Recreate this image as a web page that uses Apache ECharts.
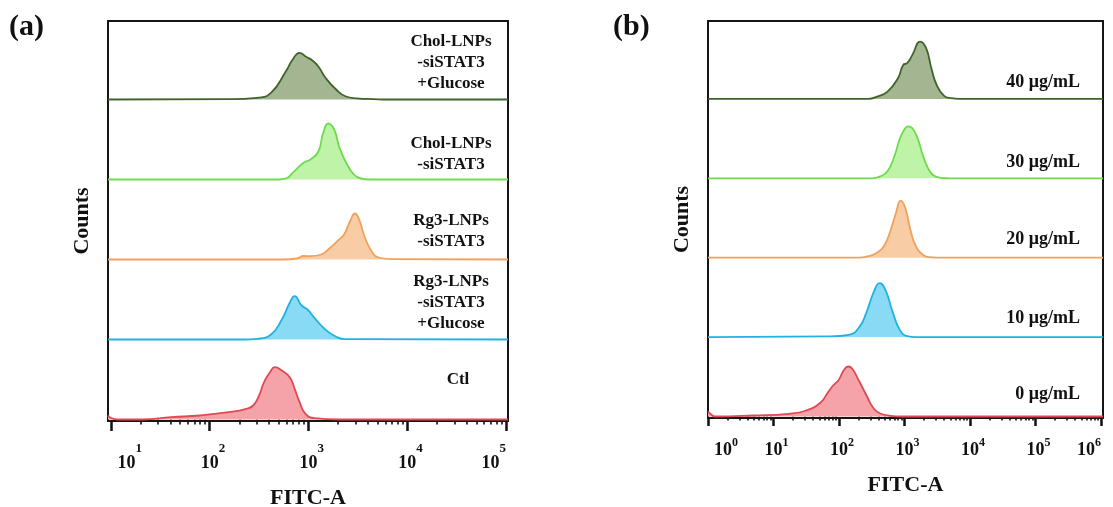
<!DOCTYPE html>
<html><head><meta charset="utf-8">
<script src="https://cdn.jsdelivr.net/npm/echarts@6/dist/echarts.min.js"></script>
<style>html,body{margin:0;padding:0;background:#fff}#c{width:1113px;height:507px}</style>
</head><body><div id="c"></div>
<script>
const FONT = '"Liberation Serif","Times New Roman",serif';

// ---------- Panel (a) data: x = log10(FITC-A), y = counts (rows top -> bottom) ----------
const aRowLabels = ['Chol-LNPs\n-siSTAT3\n+Glucose', 'Chol-LNPs\n-siSTAT3', 'Rg3-LNPs\n-siSTAT3', 'Rg3-LNPs\n-siSTAT3\n+Glucose', 'Ctl'];
const aMajorExp = [1, 2, 3, 4, 5];
const aDecades = [1, 2, 3, 4];
const aDarkGreen = [[0.97,0],[2.19,0.4],[2.48,1.7],[2.62,6.7],[2.77,28],[2.84,40],[2.91,46.7],[2.97,43],[3.04,39],[3.10,33],[3.17,22],[3.28,10],[3.38,3],[3.49,1.2],[3.66,0.4],[3.8,0],[5.02,0]];
const aLightGreen = [[0.97,0],[2.70,0],[2.77,0.8],[2.84,6.7],[2.95,16.7],[3.02,20],[3.10,28],[3.15,47],[3.20,56],[3.26,50],[3.31,33],[3.38,17],[3.46,5],[3.53,1],[3.62,0],[5.02,0]];
const aOrange = [[0.97,0],[2.75,0],[2.88,1],[2.95,3.5],[3.02,3.3],[3.13,5],[3.20,10],[3.31,20],[3.36,25],[3.42,38],[3.47,46],[3.52,38],[3.56,25],[3.64,8],[3.71,2],[3.85,0.3],[5.02,0]];
const aBlue = [[0.97,0],[2.35,0],[2.48,0.7],[2.62,5],[2.73,20],[2.81,36.7],[2.86,43.3],[2.93,34],[2.99,30],[3.06,21.7],[3.17,10],[3.28,2.7],[3.37,0.3],[5.02,0]];
const aRed = [[0.97,4],[1.0,1.5],[1.07,0],[1.32,0],[1.61,2.3],[1.90,4],[2.19,7.3],[2.37,10.7],[2.44,14],[2.50,24],[2.55,37.3],[2.61,47.3],[2.66,52.3],[2.73,49],[2.81,42.3],[2.86,30.7],[2.91,17.3],[2.97,5.7],[3.06,1.3],[3.31,0],[5.02,0]];

// ---------- Panel (b) data ----------
const bRowLabels = ['40 μg/mL', '30 μg/mL', '20 μg/mL', '10 μg/mL', '0 μg/mL'];
const bMajorExp = [0, 1, 2, 3, 4, 5, 6];
const bDecades = [0, 1, 2, 3, 4, 5];
const bDarkGreen = [[0,0],[2.45,0],[2.58,2.3],[2.74,7.3],[2.90,20.7],[2.98,34],[3.04,35.7],[3.12,44],[3.24,57.3],[3.33,50.7],[3.41,30.7],[3.49,14],[3.60,3.3],[3.71,0.7],[3.85,0],[6.03,0]];
const bLightGreen = [[0,0],[2.50,0],[2.63,2],[2.74,7],[2.85,23],[2.93,40],[3.01,50],[3.05,52],[3.12,50],[3.20,40],[3.28,23],[3.36,10],[3.44,3],[3.55,0.5],[3.7,0],[6.03,0]];
const bOrange = [[0,0],[2.30,0],[2.42,1],[2.58,5],[2.69,12],[2.79,28],[2.87,45],[2.94,57],[3.01,50],[3.09,28],[3.17,12],[3.28,3],[3.38,0.5],[3.5,0],[6.03,0]];
const bBlue = [[0,0],[1.83,0.7],[2.15,2.3],[2.31,10],[2.42,25],[2.53,45],[2.62,54],[2.71,47],[2.82,25],[2.93,7],[3.04,1],[3.17,0],[6.03,0]];
const bRed = [[0,5],[0.05,2],[0.105,0],[0.70,1],[1.23,2.7],[1.50,6],[1.72,14],[1.83,24],[1.91,31],[1.99,36],[2.07,46],[2.14,50],[2.20,48],[2.31,35],[2.42,21],[2.53,8],[2.63,3],[2.79,0.7],[2.95,0],[6.03,0]];

const minorMultipliers = [2, 3, 4, 5, 6, 7, 8, 9];

const lineColors = ['#3f6429', '#6edb4e', '#efa25b', '#22b2e1', '#de4a54'];
const fillColors = ['#a3b691', '#bff4a8', '#f8cca5', '#88daf5', '#f5a3a8'];

const aSeries = [aDarkGreen, aLightGreen, aOrange, aBlue, aRed];
const bSeries = [bDarkGreen, bLightGreen, bOrange, bBlue, bRed];

const option = {animation: false, grid: [], xAxis: [], yAxis: [], series: [], graphic: []};

function addPanel(P) {
  const gFrame = option.grid.length;
  option.grid.push({left: P.left, top: P.top, width: P.width, height: P.height, show: true, outerBoundsMode: 'none', containLabel: false,
    borderColor: '#151515', borderWidth: 2, backgroundColor: 'transparent', z: 3});
  option.xAxis.push({
    gridIndex: gFrame, type: 'value', min: P.xMin, max: P.xMax, position: 'bottom',
    axisLine: {show: false}, splitLine: {show: false},
    axisTick: {show: true, customValues: P.majors, length: P.majorLen, lineStyle: {color: '#111', width: 2.5}},
    axisLabel: {show: true, customValues: P.majors, margin: P.labelMargin, alignMinLabel: 'left', alignMaxLabel: 'right',
      formatter: v => { const n = Math.round(v); return '{pad|' + n + '}{base|10}{sup|' + n + '}'; },
      rich: {
        base: {fontFamily: FONT, fontWeight: 'bold', fontSize: P.baseSize, lineHeight: P.baseLH, verticalAlign: 'bottom', color: '#111'},
        sup: {fontFamily: FONT, fontWeight: 'bold', fontSize: P.supSize, lineHeight: P.supLH, verticalAlign: 'top', color: '#111'},
        pad: {fontFamily: FONT, fontWeight: 'bold', fontSize: P.supSize, lineHeight: P.supLH, verticalAlign: 'top', color: 'rgba(0,0,0,0)'}
      }},
    name: 'FITC-A', nameLocation: 'middle', nameGap: P.xNameGap,
    nameTextStyle: {fontFamily: FONT, fontWeight: 'bold', fontSize: 22, color: '#111'}
  });
  option.yAxis.push({
    gridIndex: gFrame, type: 'value', min: 0, max: 1,
    axisLine: {show: false}, axisTick: {show: false}, axisLabel: {show: false}, splitLine: {show: false},
    name: 'Counts', nameLocation: 'middle', nameGap: 15,
    nameTextStyle: {fontFamily: FONT, fontWeight: 'bold', fontSize: 22, color: '#111'}
  });
  const minors = [];
  P.decades.forEach(d => minorMultipliers.forEach(m => minors.push(d + Math.log10(m))));
  const rowH = P.height / 5;
  P.data.forEach((dat, i) => {
    const g = option.grid.length;
    option.grid.push({left: P.left, top: P.top + rowH * i, width: P.width, height: rowH, show: false, outerBoundsMode: 'none', containLabel: false});
    const last = i === 4;
    const xi = option.xAxis.length;
    option.xAxis.push({gridIndex: g, type: 'value', min: P.xMin, max: P.xMax, position: 'bottom',
      axisLine: {show: false}, splitLine: {show: false}, axisLabel: {show: false},
      axisTick: last ? {show: true, inside: false, customValues: minors, length: P.minorLen, lineStyle: {color: '#111', width: 1.6}} : {show: false}});
    const yi = option.yAxis.length;
    option.yAxis.push({gridIndex: g, type: 'value', min: -1.5, max: rowH - 1.5, show: false});
    option.series.push({
      type: 'line', xAxisIndex: xi, yAxisIndex: yi, data: dat, smooth: 0.5,
      showSymbol: false, symbol: 'none', silent: true,
      lineStyle: {color: lineColors[i], width: 1.8},
      areaStyle: {color: fillColors[i], opacity: 1}
    });
    option.graphic.push({type: 'text', x: P.labelX[i], y: P.labelY[i],
      style: {text: P.labels[i], font: 'bold ' + P.labelSize + 'px ' + FONT, fill: '#111', align: P.labelAlign,
        verticalAlign: 'middle', lineHeight: 21}});
  });
  option.graphic.push({type: 'text', x: P.tagX, y: 27,
    style: {text: P.tag, font: 'bold 30px ' + FONT, fill: '#111', align: 'left', verticalAlign: 'middle'}});
}

addPanel({left: 108, top: 21, width: 400, height: 400, xMin: 0.97, xMax: 5.02,
  majors: aMajorExp, decades: aDecades, data: aSeries, labels: aRowLabels,
  majorLen: 10, minorLen: 5, labelMargin: 21, baseSize: 18, baseLH: 30, supSize: 13, supLH: 10, xNameGap: 66,
  labelX: [451, 451, 451, 451, 458], labelY: [63, 154, 231, 303, 380], labelAlign: 'center', labelSize: 17,
  tag: '(a)', tagX: 9});
addPanel({left: 708, top: 21, width: 395, height: 397, xMin: 0, xMax: 6.03,
  majors: bMajorExp, decades: bDecades, data: bSeries, labels: bRowLabels,
  majorLen: 8, minorLen: 4, labelMargin: 19, baseSize: 18, baseLH: 22, supSize: 12, supLH: 13, xNameGap: 56,
  labelX: [1080, 1080, 1080, 1080, 1080], labelY: [82, 162, 239, 318, 394], labelAlign: 'right', labelSize: 18,
  tag: '(b)', tagX: 613});

const chart = echarts.init(document.getElementById('c'));
chart.setOption(option);
</script></body></html>
